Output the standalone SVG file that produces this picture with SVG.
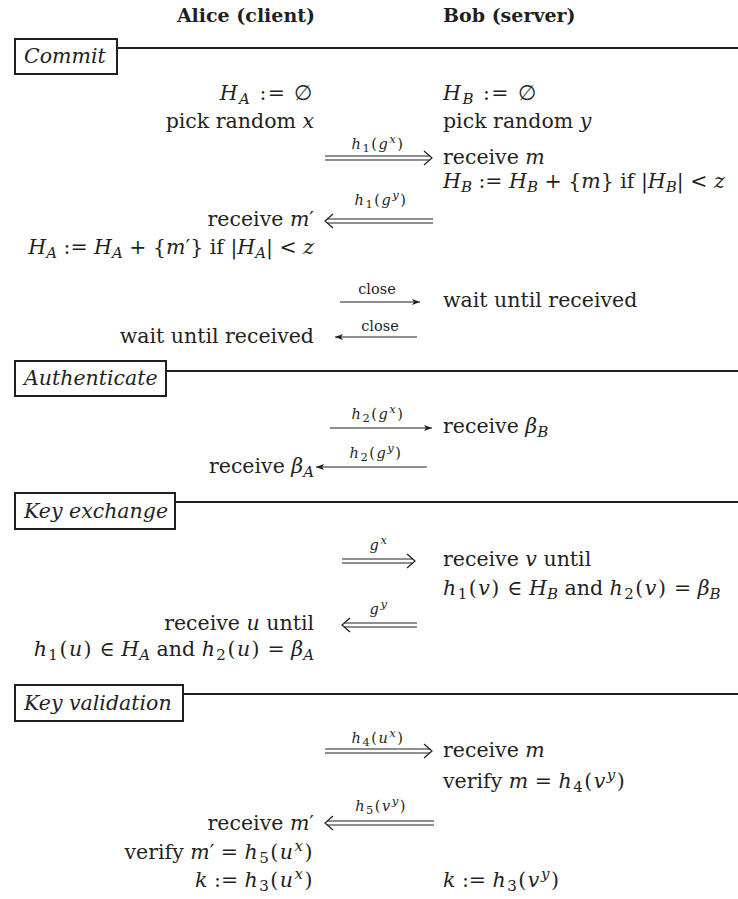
<svg xmlns="http://www.w3.org/2000/svg" width="738" height="899" viewBox="0 0 738 899">
<style>
text{font-family:"DejaVu Serif","Liberation Serif",serif;font-size:20.5px;fill:#231f20}
.i{font-style:italic}
.s{font-size:15px}
.f{letter-spacing:1.5px}
.hd{font-weight:bold;font-size:19px}
.lb{font-size:14.5px}
.lf{letter-spacing:1.5px}
.ls{font-size:11.5px}
.box{fill:#fff;stroke:#231f20;stroke-width:2}
.rule{stroke:#231f20;stroke-width:2}
.ln{stroke:#231f20;stroke-width:1.1;fill:none}
.hd2{stroke:#231f20;stroke-width:1.2;fill:none}
</style>
<defs>
<marker id="sa" viewBox="0 0 8 6" refX="8" refY="3" markerWidth="8" markerHeight="6" markerUnits="userSpaceOnUse" orient="auto">
<path d="M0,0 L8,3 L0,6 L2,3 Z" fill="#231f20"/>
</marker>
</defs>

<g id="header">
<text class="hd" x="315" y="22" text-anchor="end">Alice (client)</text>
<text class="hd" x="443" y="22">Bob (server)</text>
</g>

<g id="sec-commit">
<line class="rule" x1="117" y1="48" x2="738" y2="48"/>
<rect class="box" x="15" y="39" width="102" height="35"/>
<text class="i" x="24" y="63">Commit</text>
</g>
<g id="sec-auth">
<line class="rule" x1="166" y1="371" x2="738" y2="371"/>
<rect class="box" x="15" y="361" width="151" height="35"/>
<text class="i" x="24" y="385">Authenticate</text>
</g>
<g id="sec-kex">
<line class="rule" x1="175" y1="502" x2="738" y2="502"/>
<rect class="box" x="15" y="493" width="160" height="36"/>
<text class="i" x="24" y="518">Key exchange</text>
</g>
<g id="sec-kval">
<line class="rule" x1="183" y1="694" x2="738" y2="694"/>
<rect class="box" x="15" y="685" width="168" height="36"/>
<text class="i" x="24" y="710">Key validation</text>
</g>

<g id="alice" text-anchor="end">
<text x="314" y="100" class="f"><tspan class="i">H</tspan><tspan class="i s" dy="4">A</tspan><tspan dy="-4"> := ∅</tspan></text>
<text x="314" y="128">pick random <tspan class="i">x</tspan></text>
<text x="314" y="226">receive <tspan class="i">m</tspan>′</text>
<text x="314" y="254"><tspan class="i">H</tspan><tspan class="i s" dy="4">A</tspan><tspan dy="-4"> := </tspan><tspan class="i">H</tspan><tspan class="i s" dy="4">A</tspan><tspan dy="-4"> + {</tspan><tspan class="i">m</tspan><tspan>′} if |</tspan><tspan class="i">H</tspan><tspan class="i s" dy="4">A</tspan><tspan dy="-4">| &lt; </tspan><tspan class="i">z</tspan></text>
<text x="314" y="343">wait until received</text>
<text x="314" y="473">receive <tspan class="i">β</tspan><tspan class="i s" dy="4">A</tspan></text>
<text x="314" y="630">receive <tspan class="i">u</tspan> until</text>
<text x="314" y="656"><tspan class="f"><tspan class="i">h</tspan><tspan class="s" dy="4">1</tspan><tspan dy="-4">(</tspan><tspan class="i">u</tspan><tspan>)</tspan></tspan><tspan> ∈ </tspan><tspan class="i">H</tspan><tspan class="i s" dy="4">A</tspan><tspan dy="-4"> and </tspan><tspan class="f"><tspan class="i">h</tspan><tspan class="s" dy="4">2</tspan><tspan dy="-4">(</tspan><tspan class="i">u</tspan><tspan>)</tspan></tspan><tspan> = </tspan><tspan class="i">β</tspan><tspan class="i s" dy="4">A</tspan></text>
<text x="314" y="830">receive <tspan class="i">m</tspan>′</text>
<text x="314" y="859">verify <tspan class="i">m</tspan>′ = <tspan class="f"><tspan class="i">h</tspan><tspan class="s" dy="4">5</tspan><tspan dy="-4">(</tspan><tspan class="i">u</tspan><tspan class="i s" dy="-8">x</tspan><tspan dy="8">)</tspan></tspan></text>
<text x="314" y="887"><tspan class="i">k</tspan> := <tspan class="f"><tspan class="i">h</tspan><tspan class="s" dy="4">3</tspan><tspan dy="-4">(</tspan><tspan class="i">u</tspan><tspan class="i s" dy="-8">x</tspan><tspan dy="8">)</tspan></tspan></text>
</g>

<g id="bob">
<text x="443" y="100" class="f"><tspan class="i">H</tspan><tspan class="i s" dy="4">B</tspan><tspan dy="-4"> := ∅</tspan></text>
<text x="443" y="128">pick random <tspan class="i">y</tspan></text>
<text x="443" y="164">receive <tspan class="i">m</tspan></text>
<text x="443" y="188"><tspan class="i">H</tspan><tspan class="i s" dy="4">B</tspan><tspan dy="-4"> := </tspan><tspan class="i">H</tspan><tspan class="i s" dy="4">B</tspan><tspan dy="-4"> + {</tspan><tspan class="i">m</tspan><tspan>} if |</tspan><tspan class="i">H</tspan><tspan class="i s" dy="4">B</tspan><tspan dy="-4">| &lt; </tspan><tspan class="i">z</tspan></text>
<text x="443" y="307">wait until received</text>
<text x="443" y="433">receive <tspan class="i">β</tspan><tspan class="i s" dy="4">B</tspan></text>
<text x="443" y="566">receive <tspan class="i">v</tspan> until</text>
<text x="443" y="595"><tspan class="f"><tspan class="i">h</tspan><tspan class="s" dy="4">1</tspan><tspan dy="-4">(</tspan><tspan class="i">v</tspan><tspan>)</tspan></tspan><tspan> ∈ </tspan><tspan class="i">H</tspan><tspan class="i s" dy="4">B</tspan><tspan dy="-4"> and </tspan><tspan class="f"><tspan class="i">h</tspan><tspan class="s" dy="4">2</tspan><tspan dy="-4">(</tspan><tspan class="i">v</tspan><tspan>)</tspan></tspan><tspan> = </tspan><tspan class="i">β</tspan><tspan class="i s" dy="4">B</tspan></text>
<text x="443" y="757">receive <tspan class="i">m</tspan></text>
<text x="443" y="788">verify <tspan class="i">m</tspan> = <tspan class="f"><tspan class="i">h</tspan><tspan class="s" dy="4">4</tspan><tspan dy="-4">(</tspan><tspan class="i">v</tspan><tspan class="i s" dy="-8">y</tspan><tspan dy="8">)</tspan></tspan></text>
<text x="443" y="887"><tspan class="i">k</tspan> := <tspan class="f"><tspan class="i">h</tspan><tspan class="s" dy="4">3</tspan><tspan dy="-4">(</tspan><tspan class="i">v</tspan><tspan class="i s" dy="-8">y</tspan><tspan dy="8">)</tspan></tspan></text>
</g>

<g id="connectors">
<path class="ln" d="M325,156 H430 M325,160 H430"/>
<path class="hd2" d="M424,151 L432,158 L424,165"/>
<text class="lb lf" x="378" y="149" text-anchor="middle"><tspan class="i">h</tspan><tspan class="ls" dy="3">1</tspan><tspan dy="-3">(</tspan><tspan class="i">g</tspan><tspan class="i ls" dy="-6">x</tspan><tspan dy="6">)</tspan></text>

<path class="ln" d="M327,219 H433 M327,223 H433"/>
<path class="hd2" d="M333,214 L325,221 L333,228"/>
<text class="lb lf" x="381" y="205" text-anchor="middle"><tspan class="i">h</tspan><tspan class="ls" dy="3">1</tspan><tspan dy="-3">(</tspan><tspan class="i">g</tspan><tspan class="i ls" dy="-6">y</tspan><tspan dy="6">)</tspan></text>

<path class="ln" d="M340,302 H420" marker-end="url(#sa)"/>
<text class="lb" x="377" y="294" text-anchor="middle">close</text>

<path class="ln" d="M417,337 H335" marker-end="url(#sa)"/>
<text class="lb" x="380" y="331" text-anchor="middle">close</text>

<path class="ln" d="M330,428 H432" marker-end="url(#sa)"/>
<text class="lb lf" x="378" y="419" text-anchor="middle"><tspan class="i">h</tspan><tspan class="ls" dy="3">2</tspan><tspan dy="-3">(</tspan><tspan class="i">g</tspan><tspan class="i ls" dy="-6">x</tspan><tspan dy="6">)</tspan></text>

<path class="ln" d="M427,467 H316" marker-end="url(#sa)"/>
<text class="lb lf" x="376" y="458" text-anchor="middle"><tspan class="i">h</tspan><tspan class="ls" dy="3">2</tspan><tspan dy="-3">(</tspan><tspan class="i">g</tspan><tspan class="i ls" dy="-6">y</tspan><tspan dy="6">)</tspan></text>

<path class="ln" d="M342,559 H413 M342,563 H413"/>
<path class="hd2" d="M407,554 L415,561 L407,568"/>
<text class="lb lf" x="379" y="550" text-anchor="middle"><tspan class="i">g</tspan><tspan class="i ls" dy="-6">x</tspan></text>

<path class="ln" d="M344,623 H417 M344,627 H417"/>
<path class="hd2" d="M350,618 L342,625 L350,632"/>
<text class="lb lf" x="379" y="614" text-anchor="middle"><tspan class="i">g</tspan><tspan class="i ls" dy="-6">y</tspan></text>

<path class="ln" d="M325,749 H430 M325,753 H430"/>
<path class="hd2" d="M424,744 L432,751 L424,758"/>
<text class="lb lf" x="378" y="743" text-anchor="middle"><tspan class="i">h</tspan><tspan class="ls" dy="3">4</tspan><tspan dy="-3">(</tspan><tspan class="i">u</tspan><tspan class="i ls" dy="-6">x</tspan><tspan dy="6">)</tspan></text>

<path class="ln" d="M327,821 H434 M327,825 H434"/>
<path class="hd2" d="M333,816 L325,823 L333,830"/>
<text class="lb lf" x="381" y="811" text-anchor="middle"><tspan class="i">h</tspan><tspan class="ls" dy="3">5</tspan><tspan dy="-3">(</tspan><tspan class="i">v</tspan><tspan class="i ls" dy="-6">y</tspan><tspan dy="6">)</tspan></text>
</g>
</svg>
